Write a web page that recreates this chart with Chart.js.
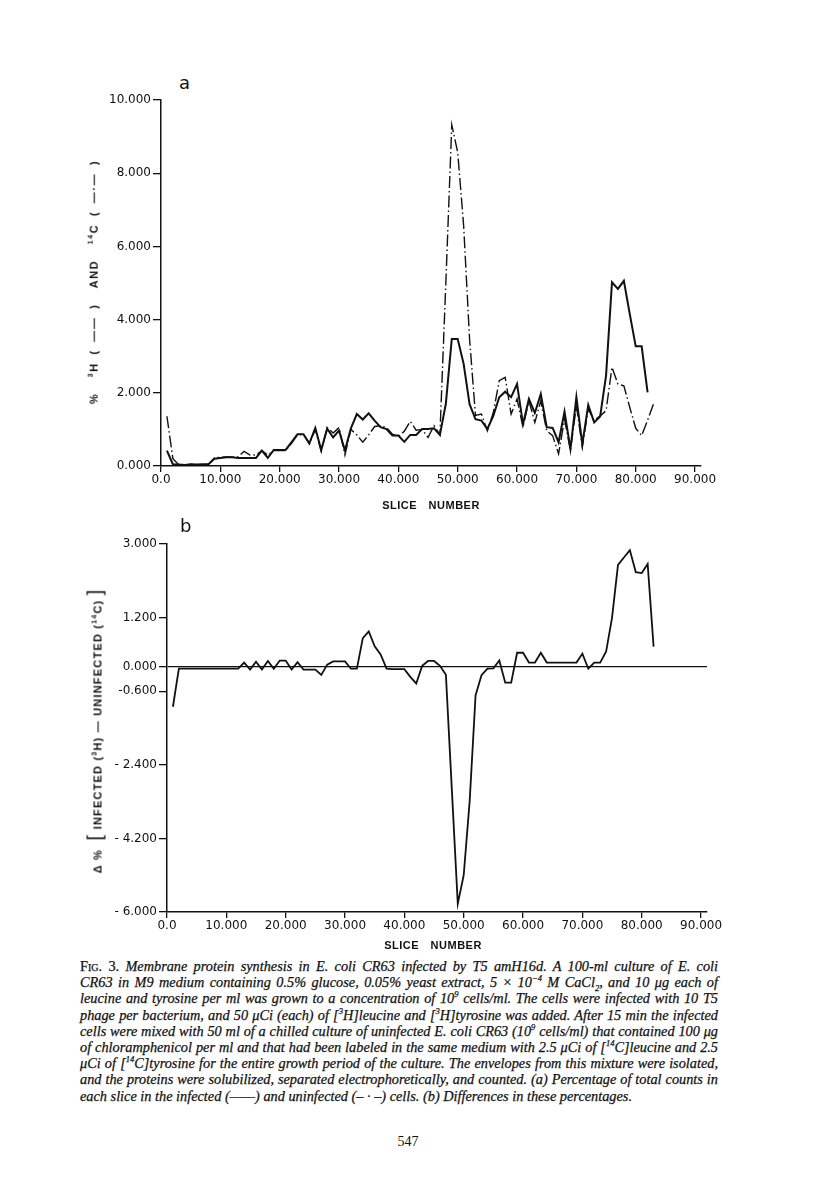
<!DOCTYPE html>
<html>
<head>
<meta charset="utf-8">
<script src="https://cdn.jsdelivr.net/npm/chart.js@4"></script>
<style>
  body { margin: 0; background: #fff; width: 816px; height: 1194px; position: relative; overflow: hidden; color: #111; font-family: "DejaVu Sans", sans-serif; }
  canvas { position: absolute; }
  .lbl { position: absolute; white-space: nowrap; }
  .panel { font-size: 18px; }
  .xtitle { font: bold 11px "Liberation Sans", sans-serif; letter-spacing: 0.5px; transform: translateX(-50%); word-spacing: 8px; }
  .ytitle { font: bold 11px "Liberation Sans", sans-serif; letter-spacing: 1.6px; word-spacing: 3px; transform: translate(-50%, -50%) rotate(-90deg); }
  .ytitle sup { font-size: 7px; }
  .brk { font-size: 20px; font-weight: normal; }
  .caption { position: absolute; left: 80px; top: 958px; width: 638px; font: italic 14.3px "Liberation Serif", serif; -webkit-text-stroke: 0.25px #111; }
  .caption div { height: 16.2px; line-height: 16.2px; text-align: justify; text-align-last: justify; white-space: nowrap; }
  .caption div.last { text-align-last: left; }
  .caption sup, .caption sub { font-size: 8.5px; line-height: 0; }
  .sc { font-style: normal; font-variant: small-caps; }
  .page { position: absolute; left: 408px; top: 1134px; transform: translateX(-50%); font: 14px "Liberation Serif", serif; }
</style>
</head>
<body>

<div class="lbl panel" style="left:179px; top:72px;">a</div>
<canvas id="chartA" width="700" height="430" style="left:40px; top:70px;"></canvas>
<div class="lbl ytitle" style="left:93px; top:282px;">%&nbsp;&nbsp;<sup>3</sup>H ( —— )&nbsp;&nbsp;AND&nbsp;&nbsp;<sup>14</sup>C ( —·— )</div>
<div class="lbl xtitle" style="left:431px; top:499px;">SLICE NUMBER</div>

<div class="lbl panel" style="left:180px; top:515px;">b</div>
<canvas id="chartB" width="700" height="432" style="left:40px; top:514px;"></canvas>
<div class="lbl ytitle" style="left:95px; top:731px; letter-spacing:1.2px; word-spacing:0;">Δ %&nbsp;&nbsp;<span class="brk">[</span> INFECTED (<sup>3</sup>H) — UNINFECTED (<sup>14</sup>C) <span class="brk">]</span></div>
<div class="lbl xtitle" style="left:433px; top:939px;">SLICE NUMBER</div>

<div class="caption">
  <div><span class="sc">Fig</span><span style="font-style:normal">. 3.</span> Membrane protein synthesis in E. coli CR63 infected by T5 amH16d. A 100-ml culture of E. coli</div>
  <div>CR63 in M9 medium containing 0.5% glucose, 0.05% yeast extract, 5 × 10<sup>−4</sup> M CaCl<sub>2</sub>, and 10 μg each of</div>
  <div>leucine and tyrosine per ml was grown to a concentration of 10<sup>9</sup> cells/ml. The cells were infected with 10 T5</div>
  <div>phage per bacterium, and 50 μCi (each) of [<sup>3</sup>H]leucine and [<sup>3</sup>H]tyrosine was added. After 15 min the infected</div>
  <div>cells were mixed with 50 ml of a chilled culture of uninfected E. coli CR63 (10<sup>9</sup> cells/ml) that contained 100 μg</div>
  <div>of chloramphenicol per ml and that had been labeled in the same medium with 2.5 μCi of [<sup>14</sup>C]leucine and 2.5</div>
  <div>μCi of [<sup>14</sup>C]tyrosine for the entire growth period of the culture. The envelopes from this mixture were isolated,</div>
  <div>and the proteins were solubilized, separated electrophoretically, and counted. (a) Percentage of total counts in</div>
  <div class="last">each slice in the infected (——) and uninfected (– · –) cells. (b) Differences in these percentages.</div>
</div>
<div class="page">547</div>

<script>
const slices = Array.from({ length: 83 }, (_, i) => i + 1);

// panel a: percent of total counts per slice
const infected = [
  0.42, 0.05, 0.04, 0.03, 0.05, 0.04, 0.05, 0.05, 0.20, 0.22,
  0.24, 0.24, 0.22, 0.22, 0.22, 0.22, 0.42, 0.22, 0.44, 0.44,
  0.44, 0.65, 0.87, 0.87, 0.62, 1.04, 0.44, 1.02, 0.78, 0.97,
  0.42, 1.03, 1.42, 1.27, 1.44, 1.24, 1.06, 1.01, 0.83, 0.83,
  0.66, 0.85, 0.85, 1.01, 1.01, 1.03, 0.85, 1.70, 3.47, 3.47,
  2.79, 1.69, 1.28, 1.24, 1.01, 1.37, 1.88, 2.03, 1.88, 2.24,
  1.15, 1.83, 1.45, 1.97, 1.06, 1.04, 0.65, 1.49, 0.46, 1.88,
  0.60, 1.67, 1.19, 1.35, 2.47, 5.02, 4.84, 5.06, 4.15, 3.27,
  3.27, 2.01
];
const uninfected = [
  1.36, 0.20, 0.03, 0.03, 0.04, 0.03, 0.04, 0.05, 0.22, 0.24,
  0.25, 0.24, 0.25, 0.40, 0.30, 0.30, 0.42, 0.30, 0.42, 0.42,
  0.42, 0.62, 0.85, 0.87, 0.60, 1.00, 0.40, 1.05, 0.90, 1.05,
  0.30, 1.00, 0.85, 0.65, 0.85, 1.08, 1.10, 1.05, 0.87, 0.80,
  0.95, 1.22, 0.98, 1.00, 0.78, 1.10, 0.85, 5.00, 9.32, 8.57,
  6.57, 3.47, 1.38, 1.42, 0.96, 1.46, 2.33, 2.42, 1.42, 1.83,
  1.06, 1.78, 1.19, 1.78, 0.96, 0.83, 0.33, 1.28, 0.42, 1.65,
  0.51, 1.56, 1.24, 1.37, 1.51, 2.70, 2.24, 2.19, 1.60, 1.03,
  0.83, 1.25, 1.70
];

// panel b: infected minus uninfected
const difference = [
  -0.98, -0.05, -0.05, -0.05, -0.05, -0.05, -0.05, -0.05, -0.05, -0.05,
  -0.05, -0.05, 0.10, -0.07, 0.12, -0.07, 0.14, -0.05, 0.15, 0.15,
  -0.07, 0.11, -0.07, -0.07, -0.07, -0.20, 0.05, 0.13, 0.13, 0.13,
  -0.05, -0.05, 0.70, 0.86, 0.50, 0.30, -0.05, -0.06, -0.06, -0.06,
  -0.25, -0.41, 0.02, 0.14, 0.14, 0.02, -0.20, -3.00, -5.80, -5.10,
  -3.30, -0.70, -0.21, -0.05, -0.04, 0.15, -0.39, -0.39, 0.34, 0.34,
  0.10, 0.10, 0.34, 0.10, 0.10, 0.10, 0.10, 0.10, 0.10, 0.32,
  -0.05, 0.10, 0.10, 0.37, 1.20, 2.49, 2.67, 2.85, 2.31, 2.29,
  2.51, 0.49
];

const xTicks = [0, 10, 20, 30, 40, 50, 60, 70, 80, 90];
const xTickLabels = ['0.0', '10.000', '20.000', '30.000', '40.000', '50.000', '60.000', '70.000', '80.000', '90.000'];
const aTicks = [0, 2, 4, 6, 8, 10];
const aTickLabels = ['0.000', '2.000', '4.000', '6.000', '8.000', '10.000'];
const bTicks = [-6, -4.2, -2.4, -0.6, 0, 1.2, 3];
const bTickLabels = ['- 6.000', '- 4.200', '- 2.400', '-0.600', '0.000', '1.200', '3.000'];

Chart.defaults.font.family = '"DejaVu Sans", sans-serif';
Chart.defaults.font.size = 12;
Chart.defaults.color = '#111';

function points(values) {
  return values.map((v, i) => ({ x: slices[i], y: v }));
}

function makePanel(id, datasets, yMin, yMax, yTicks, yLabels, yWidth, padRight, zeroLine) {
  new Chart(document.getElementById(id), {
    type: 'line',
    data: { datasets: datasets },
    options: {
      responsive: false,
      animation: false,
      devicePixelRatio: 1,
      layout: { padding: { top: 30, right: padRight, bottom: 0, left: 0 } },
      plugins: { legend: { display: false }, tooltip: { enabled: false } },
      elements: { point: { radius: 0 }, line: { tension: 0 } },
      scales: {
        x: {
          type: 'linear',
          min: 0,
          max: 91,
          afterBuildTicks: s => { s.ticks = xTicks.map(v => ({ value: v })); },
          afterFit: s => { s.height = 34; },
          ticks: {
            autoSkip: false,
            maxRotation: 0,
            padding: 1,
            callback: v => xTickLabels[xTicks.indexOf(v)]
          },
          border: { color: '#111', width: 1.5 },
          grid: { drawOnChartArea: false, color: '#111', tickLength: 6, lineWidth: 1.3 }
        },
        y: {
          min: yMin,
          max: yMax,
          afterBuildTicks: s => { s.ticks = yTicks.map(v => ({ value: v })); },
          afterFit: s => { s.width = yWidth; },
          ticks: {
            autoSkip: false,
            padding: 2,
            callback: v => yLabels[yTicks.indexOf(v)]
          },
          border: { color: '#111', width: 1.5 },
          grid: {
            drawOnChartArea: zeroLine,
            color: c => (c.tick && c.tick.value === 0) ? '#111' : 'rgba(0,0,0,0)',
            tickColor: '#111',
            tickLength: 8,
            lineWidth: 1.3
          }
        }
      }
    }
  });
}

makePanel('chartA', [
  {
    label: 'Infected (3H)',
    data: points(infected),
    borderColor: '#111',
    borderWidth: 2
  },
  {
    label: 'Uninfected (14C)',
    data: points(uninfected),
    borderColor: '#111',
    borderWidth: 1.4,
    borderDash: [12, 3, 1.5, 3]
  }
], 0, 10, aTicks, aTickLabels, 121, 39, false);

makePanel('chartB', [
  {
    label: 'Difference',
    data: points(difference),
    borderColor: '#111',
    borderWidth: 1.8
  }
], -6, 3, bTicks, bTickLabels, 127, 33, true);
</script>
</body>
</html>
